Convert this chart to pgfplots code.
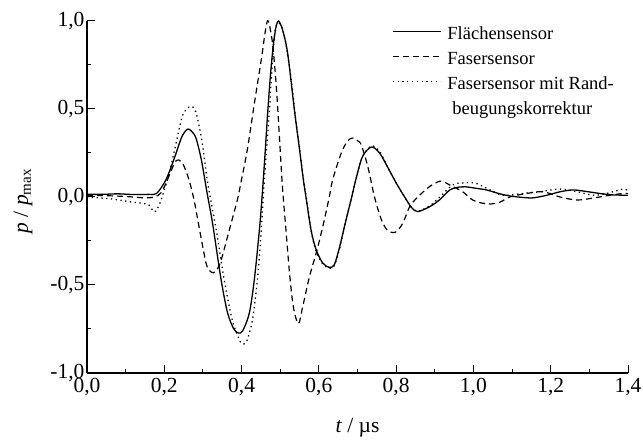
\documentclass[border=0pt]{standalone}
\usepackage{fontspec}
\setmainfont{Liberation Serif}
\usepackage{pgfplots}
\pgfplotsset{compat=1.18}

\begin{document}
\begin{tikzpicture}
\useasboundingbox (-87pt,-68pt) rectangle (556pt,373pt);
\begin{axis}[
    scale only axis,
    width=541pt, height=352pt,
    xmin=0, xmax=1.4, ymin=-1, ymax=1,
    axis x line*=bottom, axis y line*=left,
    axis line style={line width=1.3pt},
    xtick={0,0.2,...,1.4}, ytick={-1,-0.5,...,1},
    minor xtick={0.1,0.3,...,1.3}, minor ytick={-0.75,-0.25,0.25,0.75},
    tick align=inside,
    major tick length=8pt, minor tick length=4pt,
    every tick/.style={black, line width=1pt},
    /pgf/number format/.cd, use comma, fixed, fixed zerofill, precision=1, assume math mode=true,
    /pgfplots/.cd,
    tick label style={font=\fontsize{21.5}{24}\selectfont},
    xticklabel style={yshift=-2pt},
    yticklabel style={xshift=1pt},
    xlabel={\textit{t} / µs},
    ylabel={\textit{p} / \textit{p}\textsubscript{max}},
    every axis x label/.style={at={(axis description cs:0.5,0)}, anchor=base, yshift=-60pt,
        font=\fontsize{21.5}{24}\selectfont},
    every axis y label/.style={at={(axis description cs:0,0.5)}, xshift=-64pt, yshift=-4pt, rotate=90, anchor=center,
        font=\fontsize{21.5}{24}\selectfont},
    legend style={draw=none, fill=none, at={(0.564,0.983)}, anchor=north west,
        inner sep=0pt, outer sep=0pt, row sep=8pt, column sep=6pt,
        font=\fontsize{18.5}{22}\selectfont,
        nodes={inner sep=0pt, text height=13pt, text depth=4pt}},
    legend cell align=left,
    legend image code/.code={\draw[#1] (0pt,4pt) -- (48pt,4pt);},
]
\addplot[black, line width=1.3pt, smooth] coordinates {
(0.00,0.015) (0.04,0.015) (0.08,0.018) (0.12,0.014) (0.16,0.015) (0.18,0.02)
(0.204,0.097) (0.226,0.22) (0.244,0.335) (0.255,0.375) (0.262,0.386) (0.270,0.375)
(0.282,0.335) (0.296,0.21) (0.311,0.02) (0.325,-0.15) (0.347,-0.47) (0.364,-0.66)
(0.38,-0.75) (0.392,-0.773) (0.403,-0.76) (0.42,-0.66) (0.433,-0.47) (0.446,-0.19)
(0.453,0.0) (0.46,0.22) (0.467,0.46) (0.475,0.70) (0.483,0.88) (0.49,0.975)
(0.496,1.0) (0.506,0.95) (0.519,0.82) (0.537,0.49) (0.55,0.27) (0.56,0.097)
(0.568,-0.02) (0.58,-0.19) (0.593,-0.30) (0.61,-0.375) (0.627,-0.40) (0.64,-0.385)
(0.653,-0.29) (0.666,-0.17) (0.685,0.0) (0.697,0.11) (0.713,0.23) (0.736,0.284)
(0.757,0.25) (0.778,0.17) (0.80,0.08) (0.822,0.0) (0.84,-0.06) (0.856,-0.083)
(0.887,-0.055) (0.913,-0.015) (0.939,0.04) (0.964,0.057) (0.98,0.058) (1.005,0.05)
(1.034,0.04) (1.065,0.02) (1.094,0.006) (1.125,-0.002) (1.154,-0.005) (1.19,0.01)
(1.225,0.03) (1.258,0.04) (1.29,0.032) (1.327,0.02) (1.36,0.012) (1.40,0.01)
};
\addlegendentry{Flächensensor}
\addplot[black, line width=1.2pt, dash pattern=on 6pt off 4pt, smooth] coordinates {
(0.00,0.01) (0.04,0.008) (0.08,0.005) (0.12,0.0) (0.15,-0.005) (0.175,0.0)
(0.19,0.02) (0.20,0.057) (0.218,0.15) (0.228,0.20) (0.238,0.21) (0.25,0.18)
(0.264,0.097) (0.277,-0.017) (0.29,-0.17) (0.308,-0.375) (0.318,-0.42) (0.327,-0.43)
(0.337,-0.41) (0.347,-0.36) (0.368,-0.19) (0.389,-0.017) (0.40,0.10) (0.415,0.27)
(0.433,0.53) (0.451,0.78) (0.462,0.95) (0.469,1.0) (0.48,0.875) (0.49,0.625)
(0.498,0.34) (0.506,0.05) (0.515,-0.19) (0.524,-0.43) (0.534,-0.625) (0.547,-0.72)
(0.558,-0.625) (0.576,-0.45) (0.593,-0.32) (0.61,-0.17) (0.627,0.0) (0.636,0.10)
(0.658,0.25) (0.675,0.32) (0.688,0.335) (0.70,0.32) (0.71,0.295) (0.727,0.17)
(0.744,0.0) (0.762,-0.13) (0.778,-0.19) (0.798,-0.20) (0.817,-0.15) (0.835,-0.055)
(0.856,0.0) (0.887,0.06) (0.915,0.09) (0.939,0.068) (0.972,0.03) (0.998,-0.017)
(1.021,-0.034) (1.042,-0.04) (1.068,-0.03) (1.094,0.0) (1.138,0.02) (1.18,0.03)
(1.224,0.0) (1.268,-0.017) (1.31,-0.006) (1.353,0.01) (1.387,0.02) (1.40,0.02)
};
\addlegendentry{Fasersensor}
\addplot[black, line width=1.3pt, dash pattern=on 1.3pt off 3.5pt, smooth] coordinates {
(0.00,0.00) (0.03,-0.005) (0.06,-0.01) (0.09,-0.02) (0.12,-0.03) (0.14,-0.035)
(0.16,-0.045) (0.174,-0.085) (0.187,-0.045) (0.20,0.04) (0.213,0.135) (0.231,0.31)
(0.246,0.455) (0.258,0.50) (0.27,0.515) (0.278,0.50) (0.285,0.455) (0.298,0.31)
(0.311,0.097) (0.324,-0.06) (0.337,-0.22) (0.355,-0.47) (0.376,-0.70) (0.394,-0.81)
(0.402,-0.835) (0.41,-0.83) (0.415,-0.81) (0.428,-0.70) (0.441,-0.47) (0.451,-0.19)
(0.456,0.0) (0.463,0.22) (0.472,0.49) (0.48,0.78) (0.487,0.95) (0.495,0.99)
(0.503,0.97) (0.51,0.92) (0.52,0.80) (0.53,0.64) (0.54,0.44) (0.55,0.28)
(0.56,0.10) (0.568,-0.01) (0.58,-0.19) (0.593,-0.31) (0.61,-0.38) (0.627,-0.405)
(0.64,-0.39) (0.653,-0.30) (0.666,-0.17) (0.685,0.0) (0.697,0.11) (0.713,0.23)
(0.736,0.29) (0.757,0.26) (0.778,0.17) (0.80,0.08) (0.822,0.0) (0.84,-0.06)
(0.856,-0.08) (0.887,-0.05) (0.913,0.0) (0.946,0.068) (0.972,0.08) (1.003,0.08)
(1.034,0.05) (1.076,0.01) (1.128,0.02) (1.172,0.03) (1.224,0.045) (1.268,0.03)
(1.31,0.01) (1.345,0.02) (1.387,0.045) (1.40,0.035)
};
\addlegendentry{Fasersensor mit Rand-}
\addlegendimage{empty legend}
\addlegendentry{\hspace{5pt}beugungskorrektur}
\end{axis}
\end{tikzpicture}
\end{document}
